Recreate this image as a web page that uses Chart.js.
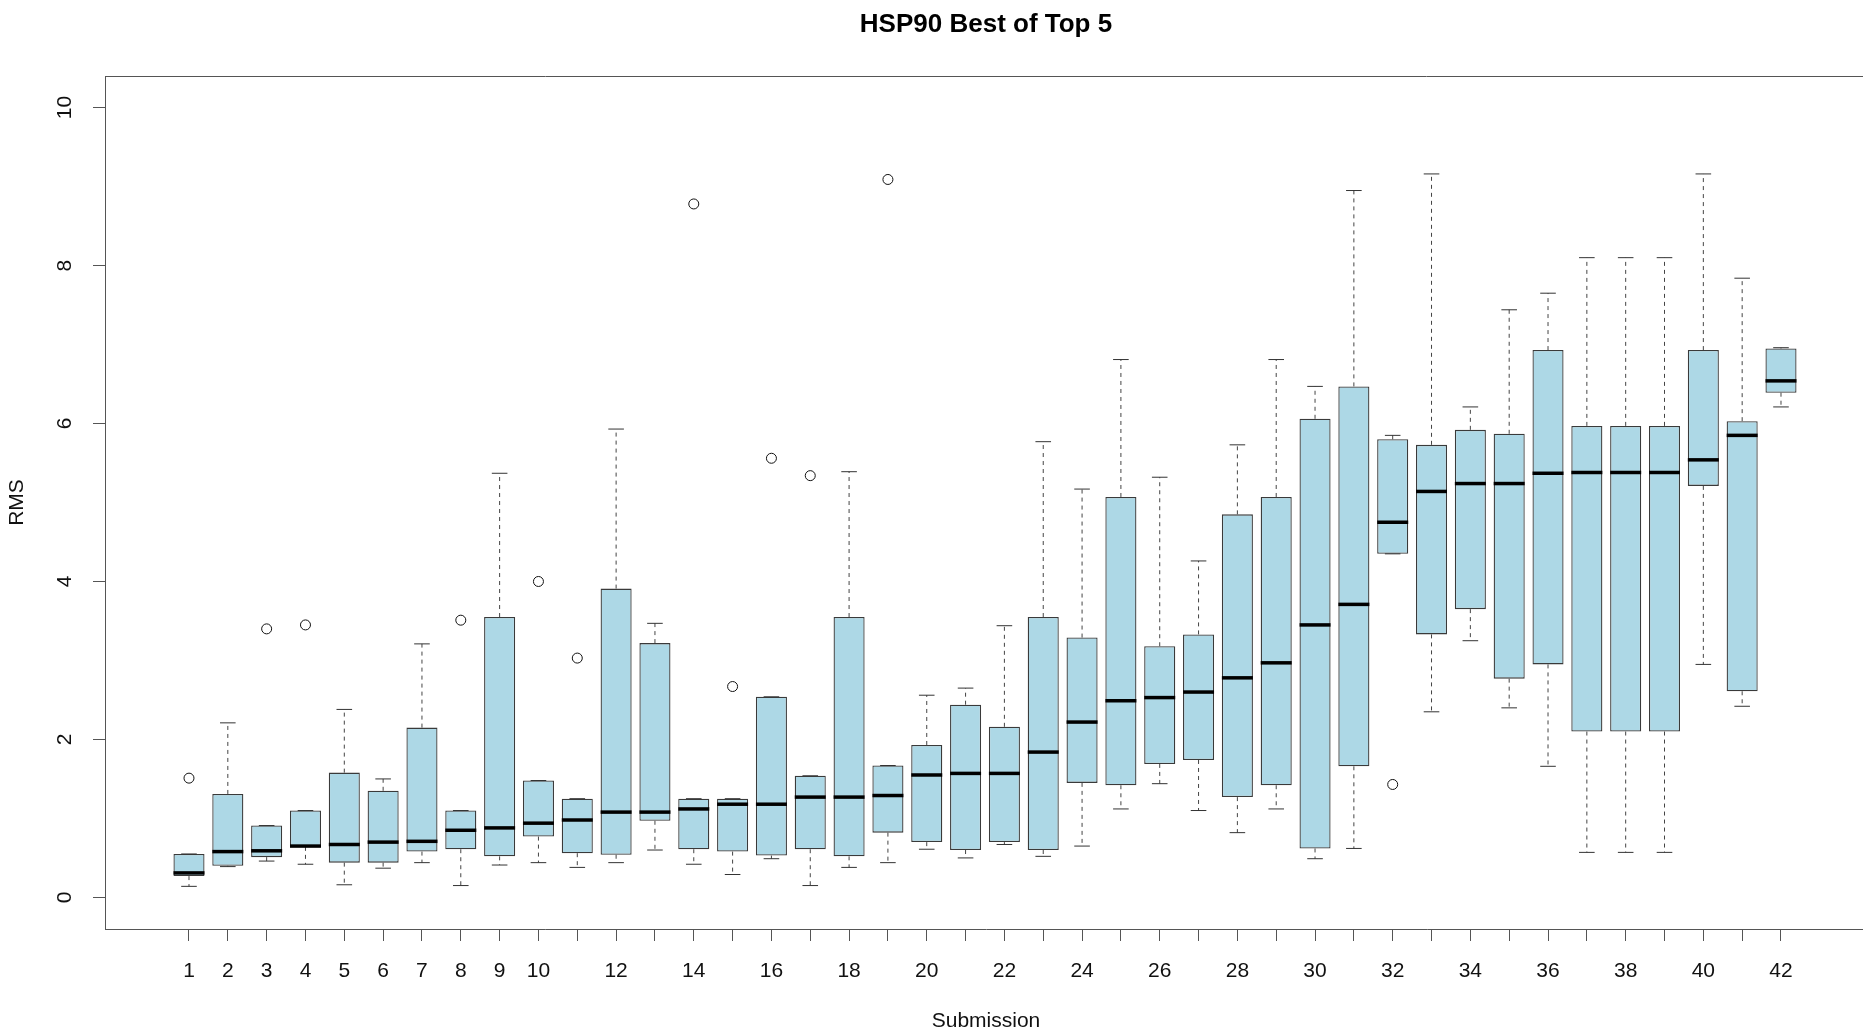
<!DOCTYPE html>
<html>
<head>
<meta charset="utf-8">
<title>HSP90 Best of Top 5</title>
<script src="https://cdn.jsdelivr.net/npm/chart.js@4.4.1/dist/chart.umd.min.js"></script>
<style>
  html, body { margin: 0; padding: 0; background: #fff; overflow: hidden; }
  #wrap { width: 1863px; height: 1031px; overflow: hidden; }
</style>
</head>
<body>
<div id="wrap"><canvas id="rms" width="1973" height="1031"></canvas></div>
<script>
// box stats per submission
const submissions = [1,2,3,4,5,6,7,8,9,10,11,12,13,14,15,16,17,18,19,20,21,22,23,24,25,26,27,28,29,30,31,32,33,34,35,36,37,38,39,40,41,42];
const whiskerLow  = [0.14,0.39,0.46,0.42,0.16,0.37,0.44,0.15,0.41,0.44,0.38,0.44,0.60,0.42,0.29,0.49,0.15,0.38,0.44,0.61,0.50,0.67,0.52,0.65,1.12,1.44,1.10,0.82,1.12,0.49,0.62,4.35,2.35,3.25,2.40,1.66,0.57,0.57,0.57,2.95,2.42,6.21];
const quart1      = [0.27,0.40,0.51,0.64,0.44,0.44,0.58,0.61,0.52,0.77,0.56,0.54,0.97,0.61,0.58,0.53,0.61,0.52,0.82,0.70,0.60,0.70,0.60,1.45,1.42,1.69,1.74,1.27,1.42,0.62,1.66,4.35,3.33,3.65,2.77,2.95,2.10,2.10,2.10,5.21,2.61,6.39];
const medians     = [0.31,0.58,0.59,0.65,0.67,0.70,0.71,0.85,0.88,0.94,0.98,1.08,1.08,1.12,1.18,1.18,1.27,1.27,1.29,1.55,1.57,1.57,1.84,2.22,2.49,2.53,2.60,2.78,2.97,3.45,3.71,4.75,5.14,5.24,5.24,5.37,5.38,5.38,5.38,5.54,5.85,6.54];
const quart3      = [0.55,1.31,0.91,1.10,1.58,1.35,2.15,1.10,3.55,1.48,1.25,3.91,3.22,1.25,1.25,2.54,1.54,3.55,1.67,1.93,2.44,2.16,3.55,3.29,5.07,3.18,3.33,4.85,5.07,6.06,6.47,5.80,5.73,5.92,5.87,6.93,5.97,5.97,5.97,6.93,6.03,6.95];
const whiskerHigh = [0.55,2.21,0.91,1.10,2.38,1.50,3.21,1.10,5.37,1.48,1.25,5.93,3.47,1.25,1.25,2.54,1.54,5.39,1.67,2.56,2.65,3.44,5.77,5.17,6.81,5.32,4.26,5.73,6.81,6.47,8.95,5.85,9.16,6.21,7.44,7.65,8.10,8.10,8.10,9.16,7.84,6.96];

const outlierSub = [1,3,4,8,10,11,14,15,16,17,19,32];
const outlierRms = [1.51,3.40,3.45,3.51,4.00,3.03,8.78,2.67,5.56,5.34,9.09,1.43];

const yTicks = [0,2,4,6,8,10];

const FONT = "'Liberation Sans', Arial, Helvetica, sans-serif";
const AXIS = '#555';

// dashed whiskers: one broken line, q3->high and q1->low for each box
const whiskerPts = [];
submissions.forEach((s, i) => {
  whiskerPts.push({x: s, y: quart3[i]}, {x: s, y: whiskerHigh[i]}, {x: s, y: null});
  whiskerPts.push({x: s, y: quart1[i]}, {x: s, y: whiskerLow[i]}, {x: s, y: null});
});

const capPts = [];
submissions.forEach((s, i) => {
  capPts.push({x: s, y: whiskerLow[i]}, {x: s, y: whiskerHigh[i]});
});

// top edge of the plot frame (left/bottom come from the axis borders)
const frame = {
  id: 'frame',
  afterDraw(chart) {
    const {ctx, chartArea: a} = chart;
    ctx.save();
    ctx.strokeStyle = AXIS;
    ctx.lineWidth = 1;
    ctx.beginPath();
    ctx.moveTo(a.left, a.top + 0.5);
    ctx.lineTo(a.right, a.top + 0.5);
    ctx.stroke();
    ctx.restore();
  }
};

new Chart(document.getElementById('rms'), {
  type: 'bar',
  data: {
    datasets: [
      {
        type: 'line',
        data: whiskerPts,
        borderColor: '#444',
        borderWidth: 1,
        borderDash: [4, 4],
        pointRadius: 0,
        spanGaps: false,
        order: 5
      },
      {
        type: 'bar',
        data: submissions.map((s, i) => ({x: s, y: [quart1[i], quart3[i]]})),
        backgroundColor: '#ADD8E6',
        borderColor: '#3a3a3a',
        borderWidth: 1.3,
        borderSkipped: false,
        barPercentage: 1,
        categoryPercentage: 0.8,
        order: 4
      },
      {
        type: 'scatter',
        data: capPts,
        pointStyle: 'line',
        pointRadius: 7.8,
        borderColor: '#333',
        borderWidth: 1,
        order: 3
      },
      {
        type: 'scatter',
        data: submissions.map((s, i) => ({x: s, y: medians[i]})),
        pointStyle: 'line',
        pointRadius: 15.5,
        borderColor: '#000',
        borderWidth: 3.5,
        order: 2
      },
      {
        type: 'scatter',
        data: outlierSub.map((s, i) => ({x: s, y: outlierRms[i]})),
        pointStyle: 'circle',
        pointRadius: 5,
        backgroundColor: 'rgba(0,0,0,0)',
        borderColor: '#111',
        borderWidth: 1,
        order: 1
      }
    ]
  },
  options: {
    responsive: false,
    animation: false,
    events: [],
    layout: { padding: { left: 0, right: 106, top: 0, bottom: 0 } },
    plugins: {
      legend: { display: false },
      tooltip: { enabled: false },
      title: {
        display: true,
        fullSize: false,
        text: 'HSP90 Best of Top 5',
        color: '#000',
        font: { family: FONT, size: 26, weight: 'bold' },
        padding: { top: 9.4, bottom: 35.4 }
      }
    },
    scales: {
      x: {
        type: 'linear',
        min: -1.163,
        max: 44.215,
        offset: false,
        afterBuildTicks: (scale) => { scale.ticks = submissions.map(v => ({value: v})); },
        afterFit: (scale) => { scale.height = 102; },
        grid: { display: true, drawOnChartArea: false, drawTicks: true, tickLength: 12, color: AXIS, offset: false },
        border: { display: true, color: AXIS, width: 1 },
        ticks: {
          autoSkip: false,
          maxRotation: 0,
          padding: 18,
          color: '#111',
          font: { family: FONT, size: 21 },
          callback: (v) => (v <= 10 || v % 2 === 0) ? String(v) : ''
        },
        title: {
          display: true,
          text: 'Submission',
          color: '#111',
          font: { family: FONT, size: 21 },
          padding: { top: 20, bottom: -3 }
        }
      },
      y: {
        type: 'linear',
        min: -0.4,
        max: 10.4,
        afterBuildTicks: (scale) => { scale.ticks = yTicks.map(v => ({value: v})); },
        afterFit: (scale) => { scale.width = 105; },
        grid: { display: true, drawOnChartArea: false, drawTicks: true, tickLength: 12, color: AXIS },
        border: { display: true, color: AXIS, width: 1 },
        ticks: {
          minRotation: 90,
          maxRotation: 90,
          crossAlign: 'center',
          padding: 16,
          color: '#111',
          font: { family: FONT, size: 21 }
        },
        title: {
          display: true,
          text: 'RMS',
          color: '#111',
          font: { family: FONT, size: 21 },
          padding: { top: 4.5, bottom: 10 }
        }
      }
    }
  },
  plugins: [frame]
});
</script>
</body>
</html>
